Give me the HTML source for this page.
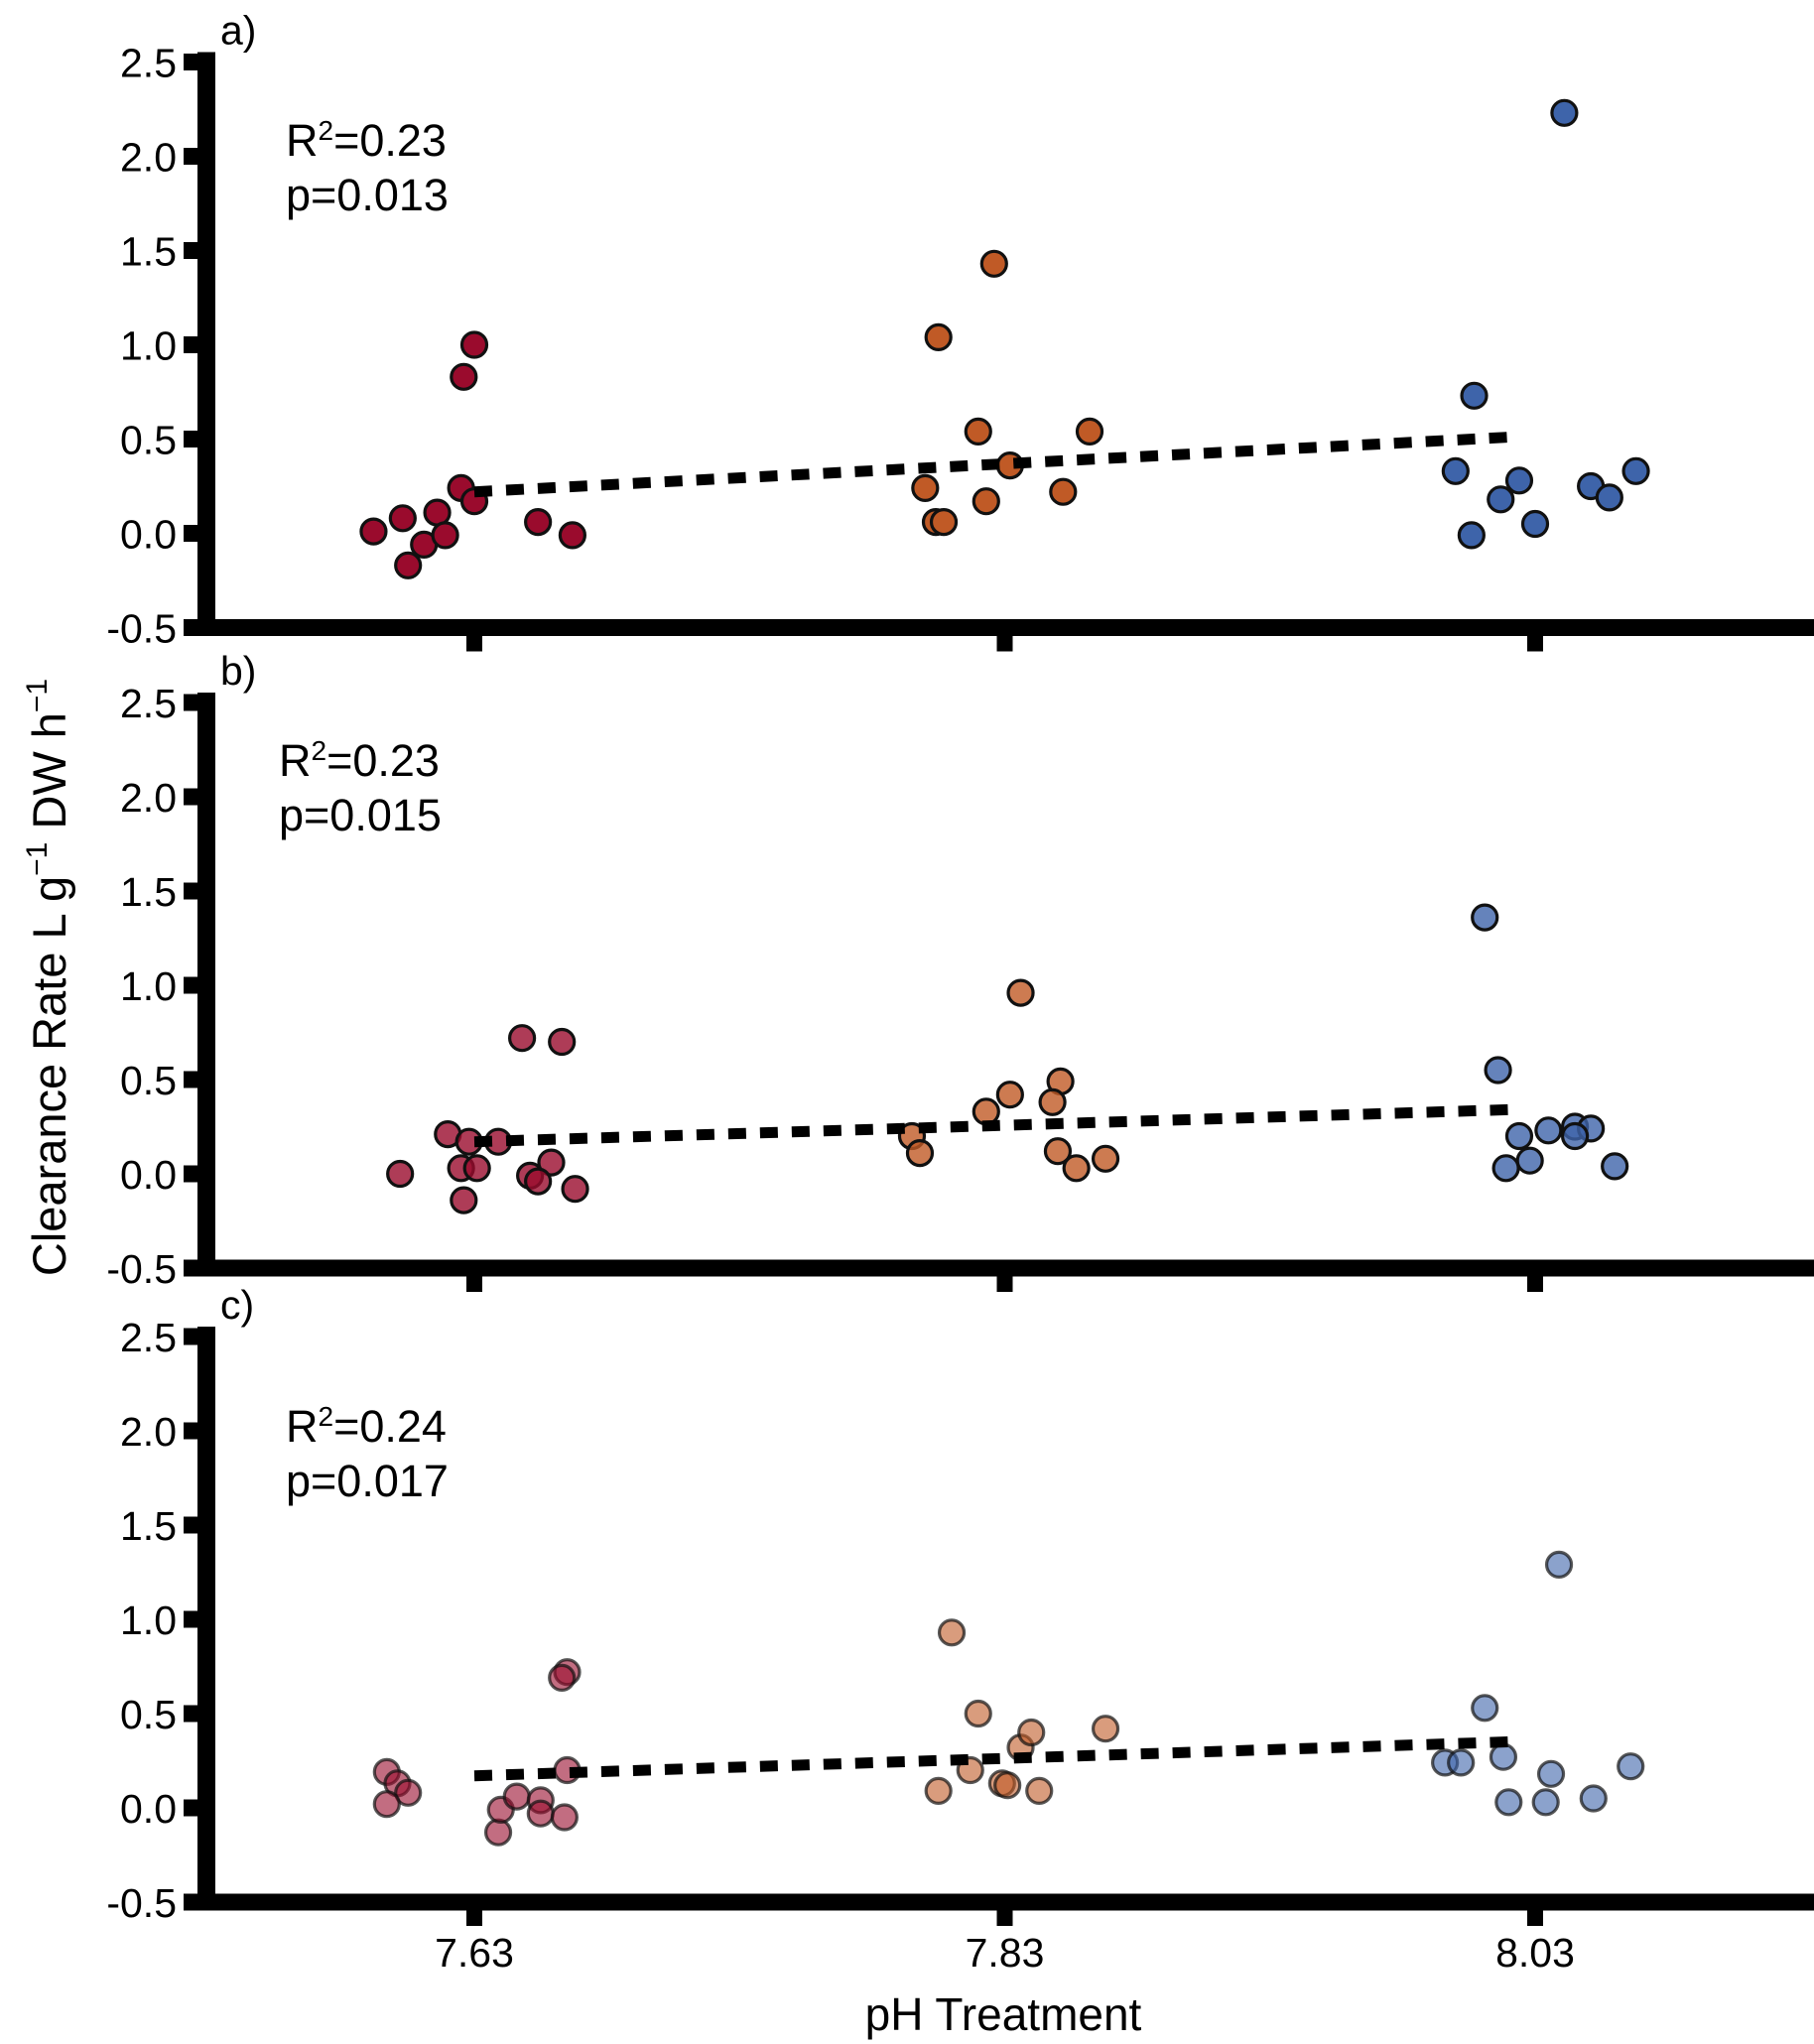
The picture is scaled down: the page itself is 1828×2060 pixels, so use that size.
<!DOCTYPE html>
<html><head><meta charset="utf-8">
<style>
html,body{margin:0;padding:0;background:#fff;}
svg{display:block;font-family:"Liberation Sans",Arial,sans-serif;}
</style></head>
<body>
<svg id="chart" width="1828" height="2060" viewBox="0 0 1828 2060" xmlns="http://www.w3.org/2000/svg">
<text transform="translate(66,985) rotate(-90)" text-anchor="middle" font-size="47">Clearance Rate L g<tspan dy="-19" font-size="30">−1</tspan><tspan dy="19"> DW h</tspan><tspan dy="-19" font-size="30">−1</tspan></text>
<text x="1011" y="2046" text-anchor="middle" font-size="46">pH Treatment</text>
</svg>
<script>
const yTicks = [2.5, 2.0, 1.5, 1.0, 0.5, 0.0, -0.5];
const yTickLabels = ["2.5","2.0","1.5","1.0","0.5","0.0","-0.5"];
const xTicks = [7.63, 7.83, 8.03];
const xTickLabels = ["7.63","7.83","8.03"];
const panelLabels = ["a)","b)","c)"];
const r2Labels = ["0.23","0.23","0.24"];
const pLabels = ["p=0.013","p=0.015","p=0.017"];
const fitStart = [0.22, 0.17, 0.17];
const fitEnd = [0.51, 0.34, 0.35];
const fitX = [7.63, 8.02];

const aRedX = [7.592,7.603,7.605,7.611,7.616,7.619,7.626,7.630,7.625,7.630,7.654,7.667];
const aRedY = [0.01,0.08,-0.17,-0.06,0.11,-0.01,0.83,1.0,0.24,0.17,0.06,-0.01];
const aOrX = [7.805,7.826,7.820,7.862,7.832,7.800,7.804,7.807,7.823,7.852];
const aOrY = [1.04,1.43,0.54,0.54,0.36,0.24,0.06,0.06,0.17,0.22];
const aBlX = [8.041,8.007,8.000,8.017,8.024,8.006,8.030,8.051,8.058,8.068];
const aBlY = [2.23,0.73,0.33,0.18,0.28,-0.01,0.05,0.25,0.19,0.33];

const bRedX = [7.602,7.620,7.628,7.625,7.631,7.639,7.626,7.648,7.663,7.651,7.659,7.654,7.668];
const bRedY = [0,0.21,0.17,0.03,0.03,0.17,-0.14,0.72,0.70,-0.01,0.06,-0.04,-0.08];
const bOrX = [7.836,7.832,7.823,7.851,7.848,7.850,7.857,7.868,7.795,7.798];
const bOrY = [0.96,0.42,0.33,0.49,0.38,0.12,0.03,0.08,0.20,0.11];
const bBlX = [8.011,8.016,8.024,8.035,8.045,8.051,8.045,8.028,8.019,8.060];
const bBlY = [1.36,0.55,0.20,0.23,0.25,0.24,0.20,0.07,0.03,0.04];

const cRedX = [7.597,7.601,7.605,7.597,7.639,7.640,7.646,7.655,7.655,7.665,7.663,7.665,7.664];
const cRedY = [0.19,0.13,0.08,0.02,-0.13,-0.01,0.06,0.04,-0.03,0.72,0.69,0.20,-0.05];
const cOrX = [7.810,7.820,7.805,7.817,7.829,7.831,7.836,7.840,7.843,7.868];
const cOrY = [0.93,0.50,0.09,0.20,0.13,0.12,0.32,0.40,0.09,0.42];
const cBlX = [8.039,8.011,7.996,8.002,8.018,8.020,8.034,8.036,8.052,8.066];
const cBlY = [1.29,0.53,0.24,0.24,0.27,0.03,0.03,0.18,0.05,0.22];

const svg = document.getElementById('chart');
const NS = 'http://www.w3.org/2000/svg';
const panelTops = [62.5, 708, 1347];
const opac = [1, 0.8, 0.6];
const colors = ['#9a0b2d', '#c05a26', '#3e64aa'];
const panels = [
  [[aRedX,aRedY],[aOrX,aOrY],[aBlX,aBlY]],
  [[bRedX,bRedY],[bOrX,bOrY],[bBlX,bBlY]],
  [[cRedX,cRedY],[cOrX,cOrY],[cBlX,cBlY]]
];
const xScale = v => 478 + (v - 7.63) / 0.2 * 534.5;
function mk(tag, attrs, parent) {
  const e = document.createElementNS(NS, tag);
  for (const k in attrs) e.setAttribute(k, attrs[k]);
  (parent || svg).appendChild(e);
  return e;
}
const groupNames = ['panel-a','panel-b','panel-c'];
const seriesNames = ['ph-7-63','ph-7-83','ph-8-03'];
for (let p = 0; p < 3; p++) {
  const top = panelTops[p];
  const yScale = v => top + (2.5 - v) * 190;
  const g = mk('g', {});
  
  
  const axY = yScale(-0.5);
  const ya = mk('rect', {x:199, y:top-10, width:18, height:axY-top+18, fill:'#000'}, g);
  
  
  const xa = mk('rect', {x:199, y:axY-8.5, width:1629, height:17, fill:'#000'}, g);
  
  
  for (let i = 0; i < yTicks.length; i++) {
    const yy = yScale(yTicks[i]);
    const t = mk('rect', {x:185, y:yy-8.5, width:20, height:17, fill:'#000'}, g);
    
    
    const l = mk('text', {x:178, y:yy+15, 'text-anchor':'end', 'font-size':41}, g);
    
    
    l.textContent = yTickLabels[i];
  }
  for (let i = 0; i < xTicks.length; i++) {
    const xx = xScale(xTicks[i]);
    const t = mk('rect', {x:xx-8, y:axY, width:16, height:24, fill:'#000'}, g);
    
    
  }
  const pl = mk('text', {x:222, y:top-18, 'font-size':41}, g);
  
  
  pl.textContent = panelLabels[p];
  const offs = [[288,157],[281,782],[288,1453]][p];
  const r2 = mk('text', {x:offs[0], y:offs[1], 'font-size':45}, g);
  
  
  r2.innerHTML = 'R<tspan dy="-16" font-size="28">2</tspan><tspan dy="16">=' + r2Labels[p] + '</tspan>';
  const pv = mk('text', {x:offs[0], y:offs[1]+55, 'font-size':45}, g);
  
  
  pv.textContent = pLabels[p];
  for (let s = 0; s < 3; s++) {
    const [xs, ys] = panels[p][s];
    for (let i = 0; i < xs.length; i++) {
      const c = mk('circle', {cx:xScale(xs[i]), cy:yScale(ys[i]), r:12.5, fill:colors[s], 'fill-opacity':opac[p], stroke:'#111', 'stroke-opacity':p===2?0.7:1, 'stroke-width':3.2}, g);
      
      
    }
  }
  const fl = mk('line', {x1:xScale(fitX[0]), y1:yScale(fitStart[p]), x2:xScale(fitX[1]), y2:yScale(fitEnd[p]), stroke:'#000', 'stroke-width':11, 'stroke-dasharray':'18 14'}, g);
  
  
}
for (let i = 0; i < xTicks.length; i++) {
  const l = mk('text', {x:xScale(xTicks[i]), y:1982, 'text-anchor':'middle', 'font-size':41});
  
  
  l.textContent = xTickLabels[i];
}
</script>
</body></html>
